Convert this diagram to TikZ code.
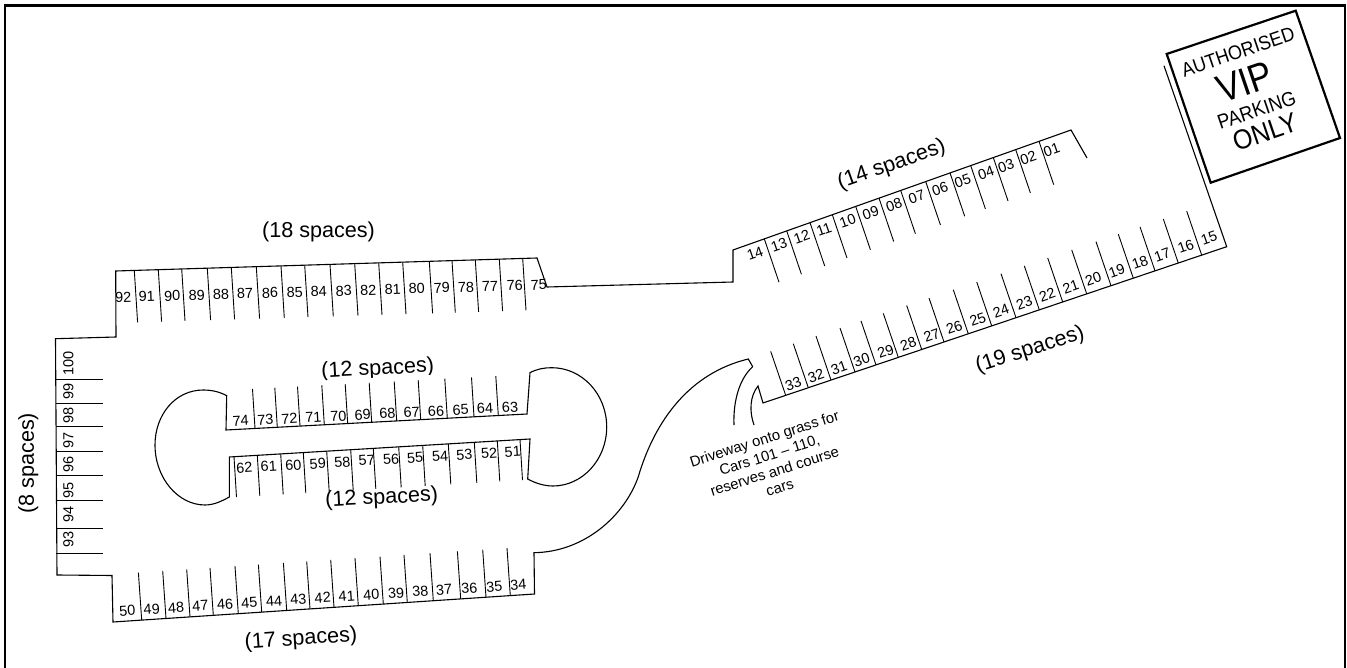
\documentclass[tikz,border=0pt]{standalone}
\usepackage{fontspec}
\setmainfont{Liberation Sans}
\newcommand{\fsz}[1]{\fontsize{#1}{#1}\selectfont}
% dividers: start point and end point of the row's line, divider offset, list of x on the line
\newcommand{\mydiv}[7]{%
  \foreach \px in {#7} {%
    \pgfmathsetmacro{\py}{#2+(#4-#2)/(#3-#1)*(\px-#1)}%
    \draw[thinline] (\px,\py) -- ++(#5,#6);
  }}
% labels: a line through the label centres, angle, list of name/x
\newcommand{\mylab}[6]{%
  \foreach \nm/\px in {#6} {%
    \pgfmathsetmacro{\py}{#2+(#4-#2)/(#3-#1)*(\px-#1)}%
    \node[num,rotate=#5] at (\px,\py) {\nm};
  }}
\begin{document}
\begin{tikzpicture}[x=1pt,y=-1pt,
  thinline/.style={draw=black,line width=0.9pt},
  wall/.style={draw=black,line width=1.1pt,line join=miter},
  num/.style={inner sep=0pt,font=\fsz{14.5},text=black},
  title/.style={inner sep=0pt,font=\fsz{21.6},text=black},
  signtext/.style={inner sep=0pt,text=black,rotate=18.8}]
\useasboundingbox (0,0) rectangle (1347,668);
\draw[black,line width=2.2pt] (5,670) -- (5,5.5) -- (1345,5.5) -- (1345,670);
% titles
\node[title] at (318.5,232) {(18 spaces)};
\node[title,rotate=19.5] at (891.7,165) {(14 spaces)};
\node[title,rotate=18] at (1030,350) {(19 spaces)};
\node[title,rotate=3] at (377.7,369.3) {(12 spaces)};
\fill[white] (318,380.7) -- (437,374.7) -- (437,385) -- (318,391) -- cycle;
\node[title,rotate=3] at (381.7,498.3) {(12 spaces)};
\node[title,rotate=4] at (301,639.3) {(17 spaces)};
\node[title,rotate=90] at (28.3,463.3) {(8 spaces)};
% outline
\draw[wall] (752.7,366.7) -- (748.3,359) .. controls (690,373) and (655,420) .. (638.3,476.7)
  .. controls (625,515) and (585,552) .. (534,552.7) -- (534.5,594) -- (113,622) -- (112,575.5)
  -- (57,575) -- (55.5,338.7) -- (116,337) -- (115.7,271) -- (537,258) -- (547,287) -- (733,282)
  -- (733,250) -- (1071,130) -- (1087,158);
\draw[wall] (752.7,366.7) .. controls (740,378) and (733,400) .. (734,425);
\draw[wall] (754,425) .. controls (749,411) and (750,396) .. (758,386) -- (763,403) -- (1226.7,246.7) -- (1164,65.7);
% island
\draw[wall] (226,430) -- (226.7,395.7) .. controls (220,392) and (212,390) .. (203.3,390)
  .. controls (175,390) and (155,415) .. (155,445) .. controls (155,478) and (178,505) .. (205,505)
  .. controls (214,505) and (222,501) .. (229.3,497) -- (229.3,457) -- (530,439) -- (527.7,479)
  .. controls (535,483) and (544,486) .. (553,486) .. controls (582,486) and (606.7,460) .. (606.7,427)
  .. controls (606.7,394) and (582,367.7) .. (551.7,367.7) .. controls (544,367.7) and (537,369) .. (530,372.7)
  -- (527,414) -- cycle;
% sign
\draw[black,line width=2.2pt] (1166.7,54) -- (1295.7,10.7) -- (1340,138) -- (1210.7,182.7) -- cycle;
\node[signtext,font=\fsz{18}] at (1238,52) {\scalebox{1}[1.1]{AUTHORISED}};
\node[signtext,font=\fsz{35}] at (1245,82) {\scalebox{1}[1.12]{VIP}};
\node[signtext,font=\fsz{18.4}] at (1256.7,110) {\scalebox{1}[1.1]{PARKING}};
\node[signtext,font=\fsz{25}] at (1265,131.7) {\scalebox{1}[1.1]{ONLY}};
% driveway text
\node[inner sep=0pt,rotate=17.6,align=center,font=\fontsize{14.8}{17}\selectfont] at (772,463)
  {Driveway onto grass for\\Cars 101 – 110,\\reserves and course\\cars};
% dividers
\mydiv{115.7}{271}{537}{258}{3.3}{52}{134.3,158.3,181.7,207.3,231.3,256.3,281,304.7,330,354.7,378.7,402.7,429.3,452,475.3,499.3,522.7}
\mydiv{113}{622}{534.5}{594}{-3.3}{-47.5}{141.7,166,190,213.3,238.3,261.7,286.7,310,334,358.3,383.3,407.3,433.3,460.7,486,510.3}
\mydiv{226}{430}{527}{414}{-2.5}{-39.5}{255,277.3,300,324.3,347.7,371.7,396.7,420.7,447.3,474,498.3}
\mydiv{229.3}{457}{530}{439}{2.5}{40.5}{234,257.3,280.7,303.3,326.7,350.7,373.3,398.7,422.7,448.3,474.3,497.3,520}
\mydiv{733}{250}{1071}{130}{14.7}{43.3}{764.3,786.7,810,832.3,855.7,879,900.7,925.7,950,970.7,993.3,1015.7,1039}
\mydiv{763}{403}{1226.7}{246.7}{-15}{-44}{785.7,808.3,831,855,876,898.3,921.7,944,968.3,991.7,1016,1039.3,1062.7,1086.7,1111,1133.3,1155,1178.3,1201.7}
\foreach \py in {379,403,426.7,451.3,475.7,500.7,528,553.3} \draw[thinline] (56,\py) -- (102.7,\py);
% labels
\mylab{123.3}{297.3}{538.7}{285}{1.8}{92/123.3,91/146.7,90/172.3,89/196.7,88/221,87/245,86/270,85/294.7,84/318.7,83/343.7,82/368.3,81/392.7,80/416.7,79/441.7,78/466,77/490,76/514.7,75/538.7}
\mylab{127.3}{610.7}{518.3}{585}{3.8}{50/127.3,49/151.7,48/176,47/200.3,46/225,45/249.3,44/274,43/298.3,42/322.7,41/346.7,40/371.3,39/396,38/420.3,37/444,36/469.3,35/494.3,34/518.3}
\mylab{240.7}{421}{510}{407.3}{3}{74/240.7,73/265.3,72/289.3,71/313.3,70/338.3,69/362.7,68/387.3,67/411.7,66/436,65/460.7,64/485,63/510}
\mylab{244.3}{468}{512.7}{451.7}{3.5}{62/244.3,61/268.7,60/293.3,59/317.7,58/342.3,57/366.7,56/391,55/415,54/440,53/464.3,52/489,51/512.7}
\mylab{755}{253.3}{1051.7}{150}{19.2}{14/755,13/779,12/801.7,11/824,10/847.7,09/870.7,08/894,07/916.7,06/940,05/962.7,04/986,03/1006,02/1028.3,01/1051.7}
\mylab{793.3}{384}{1209}{238.3}{19.3}{33/793.3,32/816,31/839,30/861.7,29/885.7,28/908.3,27/931.7,26/954.3,25/977.7,24/1001,23/1024.3,22/1047.3,21/1070.7,20/1093.3,19/1116.7,18/1140,17/1162.3,16/1185.7,15/1209}
\foreach \nm/\py in {100/363.3,99/391.7,98/415.7,97/440,96/464,95/490,94/514.3,93/539} \node[num,rotate=90] at (68.3,\py) {\nm};
\end{tikzpicture}
\end{document}
